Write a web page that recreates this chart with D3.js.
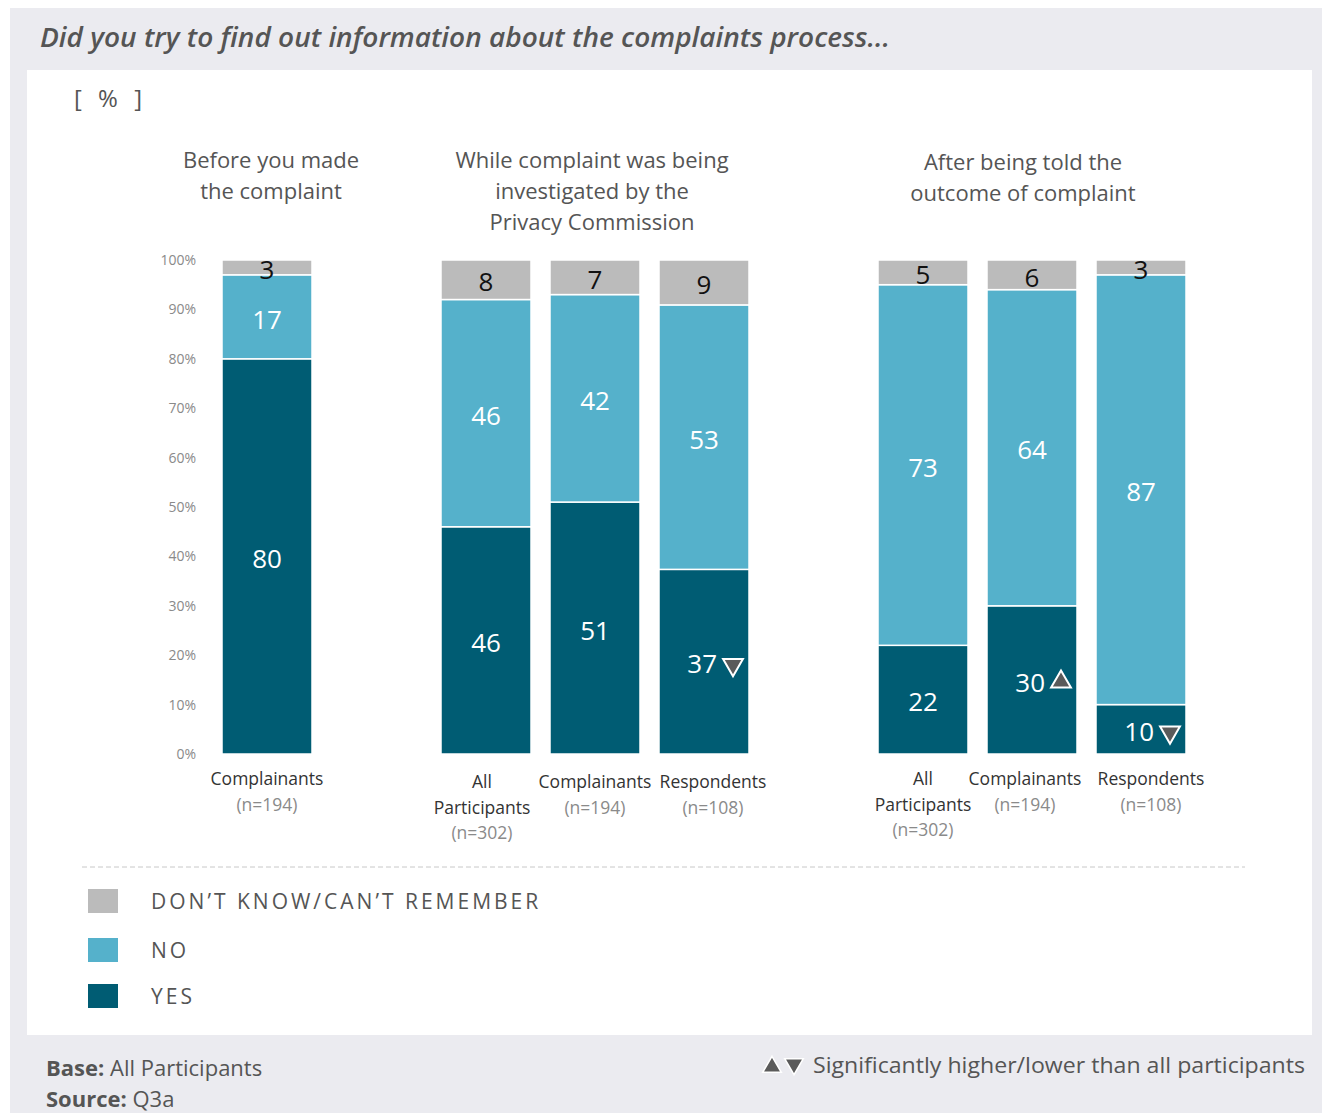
<!DOCTYPE html>
<html>
<head>
<meta charset="utf-8">
<script src="https://cdn.jsdelivr.net/npm/d3@7"></script>
<style>
  body { margin: 0; background: #fff; }
  svg text { font-family: "Open Sans", "Noto Sans", sans-serif; }
</style>
</head>
<body>
<div id="chart"></div>
<script>
// ---- data ----
const groupTitles = [
  ['Before you made', 'the complaint'],
  ['While complaint was being', 'investigated by the', 'Privacy Commission'],
  ['After being told the', 'outcome of complaint']
];
const barGroup = [0, 1, 1, 1, 2, 2, 2];
const barNames = [['Complainants'], ['All', 'Participants'], ['Complainants'], ['Respondents'],
                  ['All', 'Participants'], ['Complainants'], ['Respondents']];
const barBases = ['(n=194)', '(n=302)', '(n=194)', '(n=108)', '(n=302)', '(n=194)', '(n=108)'];
const yesValues = [80, 46, 51, 37, 22, 30, 10];
const noValues = [17, 46, 42, 53, 73, 64, 87];
const dkValues = [3, 8, 7, 9, 5, 6, 3];
const sigFlags = [null, null, null, 'down', null, 'up', 'down'];
const seriesKeys = ['yes', 'no', 'dk'];
const legendLabels = ["DON\u2019T KNOW/CAN\u2019T REMEMBER", 'NO', 'YES'];
const yTicks = [0, 0.1, 0.2, 0.3, 0.4, 0.5, 0.6, 0.7, 0.8, 0.9, 1];

const colors = { yes: '#005c73', no: '#55b1cb', dk: '#bbbbbb' };
const textGrey = '#555';

const width = 1322, height = 1113;

const svg = d3.select('#chart').append('svg')
  .attr('width', width)
  .attr('height', height);

// panels
svg.append('rect').attr('x', 10).attr('y', 8).attr('width', 1312).attr('height', 1105).attr('fill', '#ebebf0');
svg.append('rect').attr('x', 27).attr('y', 70).attr('width', 1285).attr('height', 965).attr('fill', '#fff');

svg.append('text')
  .attr('x', 40).attr('y', 47)
  .attr('fill', textGrey)
  .style('font-size', '27px').style('font-weight', 600).style('font-style', 'italic')
  .attr('textLength', 850).attr('lengthAdjust', 'spacingAndGlyphs')
  .text('Did you try to find out information about the complaints process...');

svg.append('text')
  .attr('x', 74).attr('y', 107)
  .attr('fill', textGrey)
  .style('font-size', '24px')
  .attr('xml:space', 'preserve')
  .style('letter-spacing', '5px')
  .text('[ % ]');

// ---- scales ----
const yScale = d3.scaleLinear().domain([0, 1]).range([754, 260]);

const groupRanges = [[222, 312], [441, 749], [878, 1186]];
const xScales = groupRanges.map((r, gi) => {
  const ids = d3.range(yesValues.length).filter(i => barGroup[i] === gi);
  return d3.scaleBand().domain(ids).range(r)
    .paddingInner(ids.length > 1 ? 19 / 109 : 0).paddingOuter(0);
});
const xPos = i => xScales[barGroup[i]](i);
const bw = i => xScales[barGroup[i]].bandwidth();

// y axis
const yAxis = d3.axisLeft(yScale)
  .tickValues(yTicks)
  .tickFormat(d3.format('.0%'))
  .tickSize(0)
  .tickPadding(0);

const yAxisG = svg.append('g')
  .attr('transform', 'translate(196,0)')
  .call(yAxis);
yAxisG.select('.domain').remove();
yAxisG.selectAll('text')
  .attr('fill', '#8a8a8a')
  .style('font-size', '14px')
  .style('font-family', '"Open Sans", sans-serif');

// ---- stack ----
const rows = yesValues.map((v, i) => ({ idx: i, yes: v, no: noValues[i], dk: dkValues[i] }));
const stack = d3.stack().keys(seriesKeys).offset(d3.stackOffsetExpand);
const series = stack(rows);

const layers = svg.append('g').selectAll('g')
  .data(series)
  .join('g')
  .attr('fill', d => colors[d.key]);

layers.selectAll('rect')
  .data(d => d)
  .join('rect')
  .attr('x', d => xPos(d.data.idx))
  .attr('width', d => bw(d.data.idx))
  .attr('y', d => yScale(d[1]))
  .attr('height', d => yScale(d[0]) - yScale(d[1]))
  .attr('stroke', '#fff')
  .attr('stroke-width', 1.5);

// value labels
const labelG = svg.append('g');
series.forEach(s => {
  s.forEach(d => {
    const i = d.data.idx;
    const cx = xPos(i) + bw(i) / 2;
    const cy = (yScale(d[0]) + yScale(d[1])) / 2;
    const flag = s.key === 'yes' ? sigFlags[i] : null;
    labelG.append('text')
      .attr('x', flag ? cx + 13 : cx)
      .attr('y', cy)
      .attr('dy', '0.45em')
      .attr('text-anchor', flag ? 'end' : 'middle')
      .attr('fill', s.key === 'dk' ? '#111' : '#fff')
      .style('font-size', '26px')
      .text(d.data[s.key]);
    if (flag) {
      const tri = d3.symbol().type(d3.symbolTriangle).size(170);
      labelG.append('path')
        .attr('d', tri())
        .attr('transform', `translate(${cx + 29},${cy + (flag === 'down' ? 3 : 2)}) rotate(${flag === 'down' ? 180 : 0})`)
        .attr('fill', '#5a5a5a')
        .attr('stroke', '#fff')
        .attr('stroke-width', 2);
    }
  });
});

// group titles
const groupCenters = [271, 592, 1023];
const groupTitleTop = [160, 160, 162];
groupTitles.forEach((lines, gi) => {
  const t = svg.append('text')
    .attr('text-anchor', 'middle')
    .attr('fill', textGrey)
    .style('font-size', '22px');
  lines.forEach((l, li) => {
    t.append('tspan')
      .attr('x', groupCenters[gi])
      .attr('y', groupTitleTop[gi] + li * 31)
      .attr('dy', '0.35em')
      .text(l);
  });
});

// category labels
const catTop = [779, 782, 779];
const catShift = [0, -4, 0, 9, 0, -7, 10];
d3.range(yesValues.length).forEach(i => {
  const cx = xPos(i) + bw(i) / 2 + catShift[i];
  const top = catTop[barGroup[i]];
  const lines = barNames[i];
  const t = svg.append('text')
    .attr('text-anchor', 'middle')
    .style('font-size', '17.5px');
  lines.forEach((l, li) => {
    t.append('tspan').attr('x', cx).attr('y', top + li * 25.5).attr('dy', '0.35em')
      .attr('fill', '#333').text(l);
  });
  t.append('tspan').attr('x', cx).attr('y', top + lines.length * 25.5).attr('dy', '0.35em')
    .attr('fill', '#8a8a8a').text(barBases[i]);
});

// dashed divider
svg.append('line')
  .attr('x1', 82).attr('x2', 1245).attr('y1', 867).attr('y2', 867)
  .attr('stroke', '#c8c8c8').attr('stroke-dasharray', '5,3');

// legend
const legendKeys = ['dk', 'no', 'yes'];
const legendY = [901, 950, 996];
const legend = svg.append('g').selectAll('g')
  .data(legendKeys)
  .join('g')
  .attr('transform', (d, i) => `translate(88,${legendY[i]})`);
legend.append('rect')
  .attr('x', 0).attr('y', -12).attr('width', 30).attr('height', 24)
  .attr('fill', d => colors[d]);
legend.append('text')
  .attr('x', 63).attr('dy', '0.36em')
  .attr('fill', textGrey)
  .style('font-size', '21px')
  .style('letter-spacing', '3px')
  .text((d, i) => legendLabels[i]);

// footer
const foot = svg.append('g').attr('fill', textGrey).style('font-size', '22px');
const base = foot.append('text').attr('x', 46).attr('y', 1076);
base.append('tspan').style('font-weight', 700).text('Base:');
base.append('tspan').text(' All Participants');
const src = foot.append('text').attr('x', 46).attr('y', 1107);
src.append('tspan').style('font-weight', 700).text('Source:');
src.append('tspan').text(' Q3a');

foot.append('text')
  .attr('x', 1305).attr('y', 1073)
  .attr('text-anchor', 'end')
  .style('font-size', '22px')
  .attr('textLength', 492).attr('lengthAdjust', 'spacingAndGlyphs')
  .text('Significantly higher/lower than all participants');
const triSym = d3.symbol().type(d3.symbolTriangle).size(150);
foot.append('path').attr('d', triSym())
  .attr('transform', 'translate(772,1067)')
  .attr('fill', '#5a5a5a').attr('stroke', '#fff').attr('stroke-width', 1.5);
foot.append('path').attr('d', triSym())
  .attr('transform', 'translate(794,1064) rotate(180)')
  .attr('fill', '#5a5a5a').attr('stroke', '#fff').attr('stroke-width', 1.5);
</script>
</body>
</html>
